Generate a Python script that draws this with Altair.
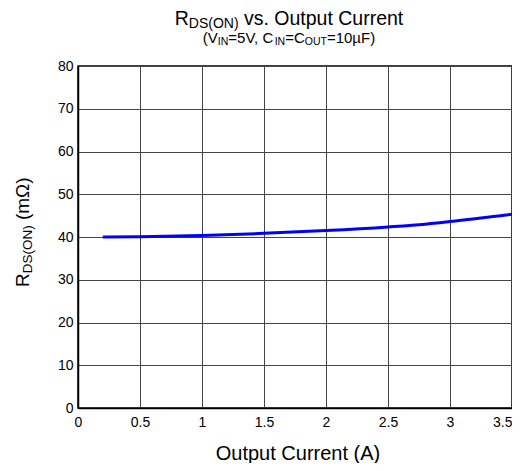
import altair as alt
import pandas as pd

# ---- data ----
current = [0.2, 0.5, 1.0, 1.5, 2.0, 2.5, 2.8, 3.0, 3.5]
rds_on = [40.0, 40.05, 40.35, 40.85, 41.5, 42.35, 43.0, 43.6, 45.3]
x_ticks = [0, 0.5, 1, 1.5, 2, 2.5, 3, 3.5]
y_ticks = [0, 10, 20, 30, 40, 50, 60, 70, 80]

title_parts = [("R", False), ("DS(ON)", True), (" vs. Output Current", False)]
subtitle_parts = [("(V", False), ("IN", True), ("=5V, C", False), ("IN", True),
                  ("=C", False), ("OUT", True), ("=10µF)", False)]
ytitle_parts = [("R", False), ("DS(ON)", True), (" (mΩ)", False)]
xtitle_parts = [("Output Current (A)", False)]

# ---- layout ----
W, H = 434, 342
FONT = "Liberation Sans"
CW = {"R": 722, "D": 722, "S": 667, "(": 333, "O": 778, "N": 722, ")": 333, " ": 278,
      "v": 500, "s": 500, ".": 278, "u": 556, "t": 278, "p": 556, "C": 722, "r": 333,
      "e": 556, "n": 556, "V": 667, "I": 278, "=": 584, "5": 556, ",": 278, "U": 722,
      "T": 611, "1": 556, "0": 556, "µ": 576, "F": 611, "m": 833, "Ω": 768, "A": 667}


def tw(s, size):
    return sum(CW.get(c, 556) for c in s) / 1000.0 * size


def pieces(parts, size, subsize, subdrop):
    out = []
    pos = 0.0
    for t, sub in parts:
        fs = subsize if sub else size
        lead = len(t) - len(t.lstrip(" "))
        out.append((t.strip(" "), pos + tw(" " * lead, fs), fs, subdrop if sub else 0))
        pos += tw(t, fs)
    return out, pos


def horiz(parts, size, subsize, subdrop, cx, base):
    ps, total = pieces(parts, size, subsize, subdrop)
    x0 = cx - total / 2
    return [dict(text=t, px=x0 + o, py=base + d, fs=fs) for t, o, fs, d in ps]


def vert(parts, size, subsize, subdrop, cy, basex):
    ps, total = pieces(parts, size, subsize, subdrop)
    y0 = cy + total / 2
    return [dict(text=t, px=basex + d, py=y0 - o, fs=fs) for t, o, fs, d in ps]


h_rows = (horiz(title_parts, 19.5, 14, 2.5, 211, -41)
          + horiz(subtitle_parts, 15, 10.5, 1.5, 211, -23)
          + horiz(xtitle_parts, 20, 14, 0, 220, H + 52))
v_rows = vert(ytitle_parts, 19, 13.5, 3, 166, -49)

df = pd.DataFrame({"current": current, "rds": rds_on})

line = alt.Chart(df).mark_line(color="#0000FF", strokeWidth=3, interpolate="monotone").encode(
    x=alt.X("current:Q", scale=alt.Scale(domain=[0, 3.5], nice=False, zero=False),
            axis=alt.Axis(values=x_ticks, format=".1~f", title=None, labelPadding=7,
                          labelAlign={"condition": {"test": "datum.value == 3.5", "value": "right"},
                                      "value": "center"})),
    y=alt.Y("rds:Q", scale=alt.Scale(domain=[0, 80], nice=False),
            axis=alt.Axis(values=y_ticks, title=None, labelPadding=5)),
)

htext = alt.Chart(pd.DataFrame(h_rows)).mark_text(
    align="left", baseline="alphabetic", font=FONT, color="black"
).encode(
    x=alt.X("px:Q", scale=None, axis=None),
    y=alt.Y("py:Q", scale=None, axis=None),
    size=alt.Size("fs:Q", scale=None, legend=None),
    text="text:N",
)

vtext = alt.Chart(pd.DataFrame(v_rows)).mark_text(
    align="left", baseline="alphabetic", font=FONT, color="black", angle=270
).encode(
    x=alt.X("px:Q", scale=None, axis=None),
    y=alt.Y("py:Q", scale=None, axis=None),
    size=alt.Size("fs:Q", scale=None, legend=None),
    text="text:N",
)

chart = alt.layer(line, htext, vtext).resolve_scale(
    x="independent", y="independent", size="independent"
).properties(
    width=W, height=H,
    background="white",
    autosize=alt.AutoSizeParams(type="none"),
    padding={"left": 70, "top": 58, "right": 0, "bottom": 55},
).configure_view(
    stroke="black", strokeWidth=1.5
).configure_axis(
    grid=True, gridColor="#444444", gridOpacity=1, gridWidth=1,
    domainColor="black", domainWidth=1.5,
    ticks=False, labelFont=FONT, labelFontSize=14, labelColor="black",
)

chart.save("out.html", embed_options={"renderer": "svg", "actions": False})
